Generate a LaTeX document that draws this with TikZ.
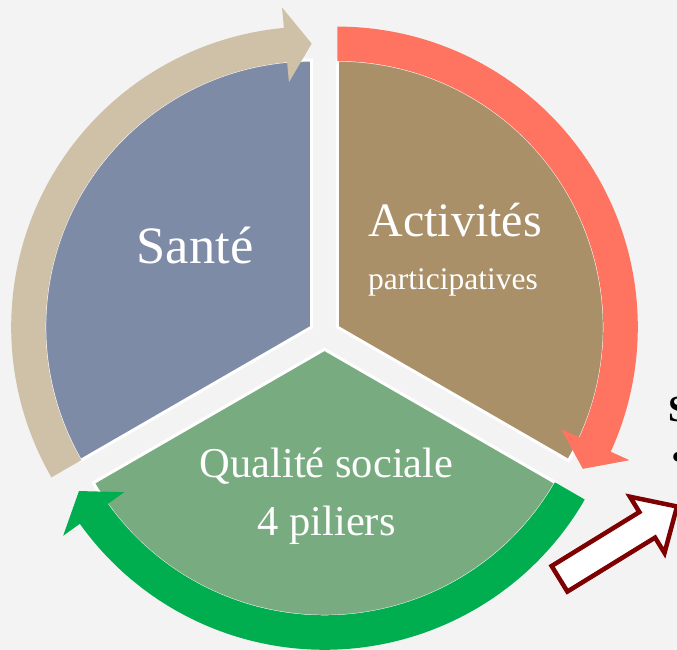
\documentclass[tikz,border=0pt]{standalone}
\usepackage{fontspec}
\setmainfont{Liberation Serif}
\usetikzlibrary{calc}
\definecolor{bg}{HTML}{F3F3F3}
\definecolor{wblue}{HTML}{7E8BA7}
\definecolor{wbrown}{HTML}{A99068}
\definecolor{wgreen}{HTML}{78AB80}
\definecolor{atan}{HTML}{CFC0A8}
\definecolor{ared}{HTML}{FF7461}
\definecolor{agreen}{HTML}{00AE4F}
\definecolor{darkred}{HTML}{7F0000}
\tikzset{
  wedge/.style={draw=white, line width=3pt},
  lbl/.style={text=white, inner sep=0pt, anchor=base},
  blockarrow/.style={fill=white, draw=darkred, line width=4.5pt, miter limit=10},
}
\begin{document}
\begin{tikzpicture}[x=1pt,y=1pt]
\useasboundingbox (0,0) rectangle (677,650);
\clip (0,0) rectangle (677,650);
\fill[bg] (0,0) rectangle (677,650);
\coordinate (C) at (324.5,315.5);
\coordinate (A) at ($(C)+(150:14.8)$);
\coordinate (B) at ($(C)+(30:14.8)$);
\coordinate (G) at ($(C)+(270:14.8)$);
% wedges
\path[wedge, fill=wblue] (A) -- ($(A)+(90:267)$) arc[start angle=90, end angle=210, radius=267] -- cycle;
\path[wedge, fill=wbrown] (B) -- ($(B)+(-30:267)$) arc[start angle=-30, end angle=90, radius=267] -- cycle;
\path[wedge, fill=wgreen] (G) -- ($(G)+(210:267)$) arc[start angle=210, end angle=330, radius=267] -- cycle;
% curved arrows
\fill[ared] ($(B)+(90:300.5)$) arc[start angle=90, end angle=-24.5, radius=300.5]
  -- ($(B)+(-24.5:321)$) -- ($(B)+(-30:283.5)$) -- ($(B)+(-24.5:246)$)
  -- ($(B)+(-24.5:266)$) arc[start angle=-24.5, end angle=90, radius=266] -- cycle;
\fill[atan] ($(A)+(210:300.5)$) arc[start angle=210, end angle=95.3, radius=300.5]
  -- ($(A)+(95.3:321)$) -- ($(A)+(90:283.5)$) -- ($(A)+(95.3:246)$)
  -- ($(A)+(95.3:266)$) arc[start angle=95.3, end angle=210, radius=266] -- cycle;
\fill[agreen] ($(G)+(-30:300.5)$) arc[start angle=-30, end angle=-144.5, radius=300.5]
  -- ($(G)+(-144.5:321)$) -- ($(G)+(-150:283.5)$) -- ($(G)+(-144.5:246)$)
  -- ($(G)+(-144.5:266)$) arc[start angle=-144.5, end angle=-30, radius=266] -- cycle;
% labels
\node[lbl, font=\fontsize{52.5}{52.5}\selectfont] (sante) at (195,386) {Santé};
\node[lbl, font=\fontsize{48}{48}\selectfont] (activ) at (455,413) {Activités};
\node[lbl, font=\fontsize{31.5}{31.5}\selectfont] (partic) at (453,360) {participatives};
\node[lbl, font=\fontsize{42.5}{42.5}\selectfont] (qual) at (326.5,172) {Qualité sociale};
\node[lbl, font=\fontsize{42.5}{42.5}\selectfont] (pil) at (326.5,114) {4 piliers};
% right side text, cut by the edge as in the reference
\node[inner sep=0pt, anchor=base west, font=\bfseries\fontsize{37}{37}\selectfont] (s) at (668.5,228.3) {S};
\node[inner sep=0pt, anchor=west, font=\fontsize{40}{40}\selectfont] (bullet) at (671,189) {•};
% block arrow
\begin{scope}[shift={(559.5,71.2)}, rotate=31.6]
\draw[blockarrow] (0,-15) -- (103,-15) -- (103,-33) -- (138,0) -- (103,33) -- (103,15) -- (0,15) -- cycle;
\end{scope}
\end{tikzpicture}
\end{document}
